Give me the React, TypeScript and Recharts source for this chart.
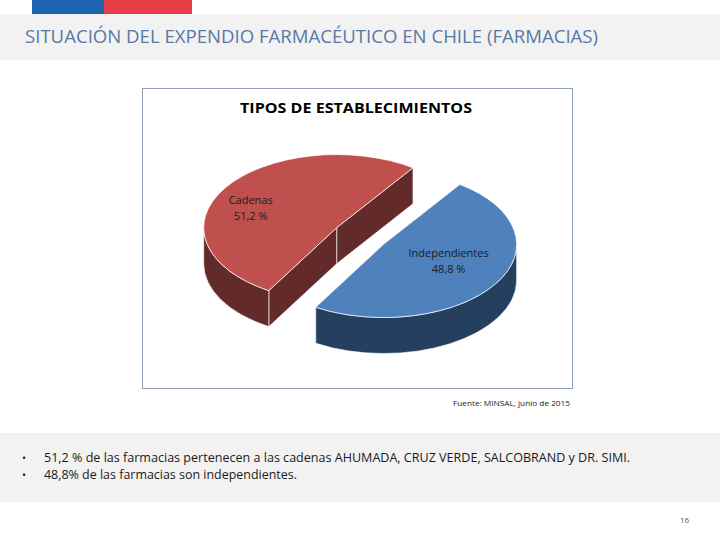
import { PieChart, Pie } from 'recharts'

const categories = ['Cadenas', 'Independientes']
const shares = [51.2, 48.8]
const shareLabels = ['51,2 %', '48,8 %']

const bullets = [
  '51,2 % de las farmacias pertenecen a las cadenas AHUMADA, CRUZ VERDE, SALCOBRAND y DR. SIMI.',
  '48,8% de las farmacias son independientes.',
]

const data = categories.map((name, i) => ({ name, value: shares[i], label: shareLabels[i] }))

// look of the 3d slices
const TILT = 0.55
const DEPTH = 36
const TOP: Record<string, string> = { Cadenas: '#c0504d', Independientes: '#4f81bd' }
const SIDE: Record<string, string> = { Cadenas: '#622a28', Independientes: '#253f5e' }
const EXPLODE: Record<string, number> = { Cadenas: 0, Independientes: 0.42 }
const LABEL_OFFSET: Record<string, [number, number]> = { Cadenas: [-86, -24], Independientes: [65, 13] }

const rad = (a: number) => (a * Math.PI) / 180

function centerOf(p: any) {
  const e = EXPLODE[p.name] ?? 0
  const m = rad(p.midAngle)
  const r = p.outerRadius
  return [p.cx + e * r * Math.cos(m), p.cy - e * r * TILT * Math.sin(m)]
}

function Slice3D(props: any) {
  const { outerRadius: r, startAngle, endAngle } = props
  const name = props.name ?? props.payload?.name
  const [cx, cy] = centerOf({ ...props, name })
  const ry = r * TILT
  const pt = (a: number, d = 0) => [cx + r * Math.cos(rad(a)), cy - ry * Math.sin(rad(a)) + d]
  const s = Math.min(startAngle, endAngle)
  const e = Math.max(startAngle, endAngle)

  const arc = (a1: number, a2: number, d: number, sweep: number) => {
    const [x, y] = pt(a2, d)
    const large = Math.abs(a2 - a1) > 180 ? 1 : 0
    return `A ${r} ${ry} 0 ${large} ${sweep} ${x} ${y}`
  }

  const walls: string[] = []
  for (const [lo, hi] of [[180, 360], [540, 720]]) {
    const a1 = Math.max(s, lo)
    const a2 = Math.min(e, hi)
    if (a2 > a1) {
      const [x1, y1] = pt(a1)
      const [x2b, y2b] = pt(a2, DEPTH)
      walls.push(`M ${x1} ${y1} ${arc(a1, a2, 0, 0)} L ${x2b} ${y2b} ${arc(a2, a1, DEPTH, 1)} Z`)
    }
  }

  const face = (a: number) => {
    const [x, y] = pt(a)
    return `M ${cx} ${cy} L ${x} ${y} L ${x} ${y + DEPTH} L ${cx} ${cy + DEPTH} Z`
  }

  const [sx, sy] = pt(s)
  const top = `M ${cx} ${cy} L ${sx} ${sy} ${arc(s, e, 0, 0)} Z`
  const side = SIDE[name]

  return (
    <g>
      <path d={face(s)} fill={side} stroke="#ffffff" strokeWidth={0.8} strokeOpacity={0.8} />
      <path d={face(e)} fill={side} stroke="#ffffff" strokeWidth={0.8} strokeOpacity={0.8} />
      {walls.map((d, i) => (
        <path key={i} d={d} fill={side} stroke="#ffffff" strokeWidth={0.8} strokeOpacity={0.8} />
      ))}
      <path d={top} fill={TOP[name]} stroke="#ffffff" strokeWidth={0.8} strokeOpacity={0.9} />
    </g>
  )
}

function SliceLabel(props: any) {
  const name = props.name ?? props.payload?.name
  const [cx, cy] = centerOf({ ...props, name })
  const [dx, dy] = LABEL_OFFSET[name]
  return (
    <text x={cx + dx} y={cy + dy} textAnchor="middle" fontFamily="'Open Sans', sans-serif" fontSize={11} fill="#1c1c1c">
      <tspan x={cx + dx} dy={0}>{name}</tspan>
      <tspan x={cx + dx} dy={16}>{props.payload?.label}</tspan>
    </text>
  )
}

export default function App() {
  return (
    <div style={{ position: 'absolute', left: 0, top: 0, width: 720, height: 540, background: '#ffffff', overflow: 'hidden' }}>
      <svg width={720} height={540} style={{ position: 'absolute', left: 0, top: 0 }}>
        <rect x={32} y={0} width={72} height={14} fill="#1f64b0" />
        <rect x={104} y={0} width={88} height={14} fill="#e63d44" />
        <rect x={0} y={14} width={720} height={46} fill="#f2f2f2" />
        <text x={25} y={43} fontFamily="'Open Sans', sans-serif" fontSize={19} fill="#5879a4" textLength={573} lengthAdjust="spacingAndGlyphs">
          SITUACIÓN DEL EXPENDIO FARMACÉUTICO EN CHILE (FARMACIAS)
        </text>
        <rect x={142.5} y={88.5} width={430} height={300} fill="#ffffff" stroke="#8fa1b3" strokeWidth={1} />
        <text x={240} y={113} fontFamily="'Open Sans', sans-serif" fontWeight={700} fontSize={14} fill="#000000" textLength={232} lengthAdjust="spacingAndGlyphs">
          TIPOS DE ESTABLECIMIENTOS
        </text>
        <text x={570} y={406} textAnchor="end" fontFamily="'Open Sans', sans-serif" fontSize={7.5} fill="#222222" textLength={117} lengthAdjust="spacingAndGlyphs">
          Fuente: MINSAL, junio de 2015
        </text>
        <rect x={0} y={433} width={720} height={69} fill="#f2f2f2" />
        {bullets.map((b, i) => (
          <g key={i}>
            <text x={22} y={462 + i * 17} fontFamily="'Open Sans', sans-serif" fontSize={11} fill="#1a1a1a">•</text>
            <text x={44} y={462 + i * 17} fontFamily="'Open Sans', sans-serif" fontSize={12} fill="#1a1a1a" textLength={i === 0 ? 586 : 253} lengthAdjust="spacingAndGlyphs">
              {b}
            </text>
          </g>
        ))}
        <text x={680} y={523} fontFamily="'Open Sans', sans-serif" fontSize={8} fill="#555555">16</text>
      </svg>
      <div style={{ position: 'absolute', left: 142, top: 88 }}>
        <PieChart width={431} height={301}>
          <Pie
            data={data}
            dataKey="value"
            nameKey="name"
            cx={189.7}
            cy={134.7}
            outerRadius={133}
            startAngle={55}
            endAngle={415}
            stroke="none"
            shape={Slice3D}
            activeShape={Slice3D}
            inactiveShape={Slice3D}
            label={SliceLabel}
            labelLine={false}
            isAnimationActive={false}
          />
        </PieChart>
      </div>
    </div>
  )
}
